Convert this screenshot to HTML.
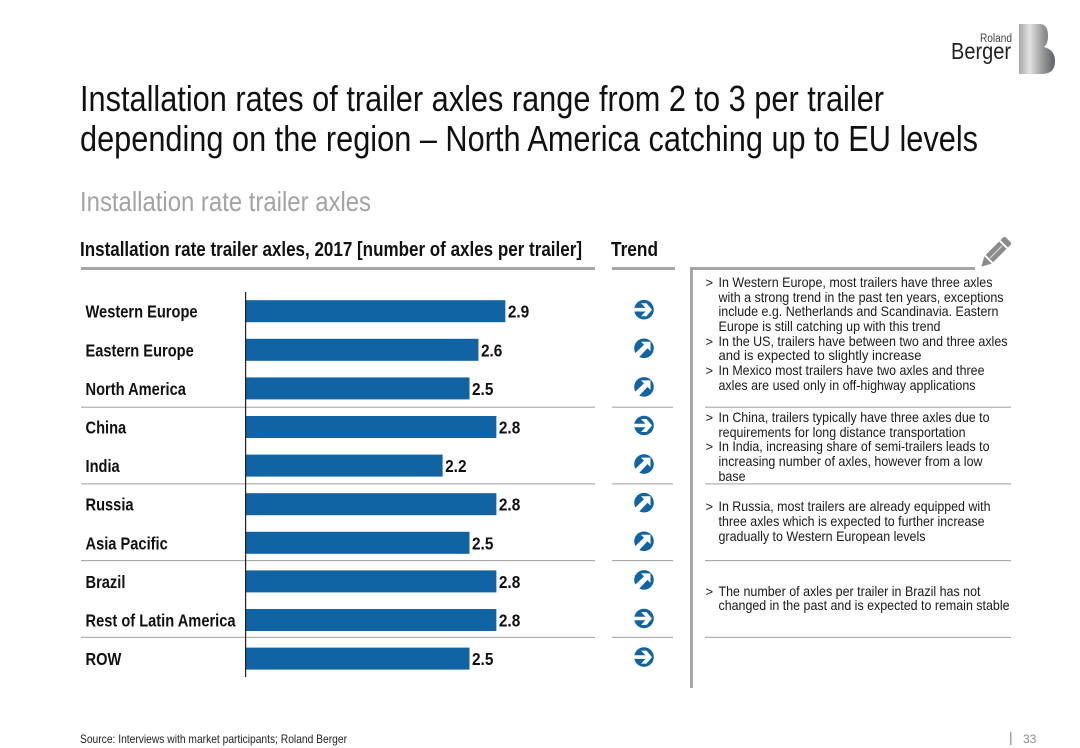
<!DOCTYPE html>
<html>
<head>
<meta charset="utf-8">
<title>Installation rate trailer axles</title>
<style>
html,body{margin:0;padding:0;background:#fff;}
svg{display:block;font-family:"Liberation Sans",sans-serif;}
</style>
</head>
<body>
<svg id="slide" width="1080" height="748" viewBox="0 0 1080 748" xmlns="http://www.w3.org/2000/svg">
  <defs>
    <linearGradient id="logoGrad" x1="0" x2="1" y1="0" y2="0">
      <stop offset="0" stop-color="#a8a8a8"/>
      <stop offset="0.3" stop-color="#e2e2e2"/>
      <stop offset="0.65" stop-color="#9a9a9a"/>
      <stop offset="1" stop-color="#5c6064"/>
    </linearGradient>
  </defs>

  <g>
    <text x="1012" y="42" text-anchor="end" font-size="11.5" fill="#444" textLength="32" lengthAdjust="spacingAndGlyphs">Roland</text>
    <text x="1011" y="59" text-anchor="end" font-size="23" fill="#222" textLength="60" lengthAdjust="spacingAndGlyphs">Berger</text>
    <path d="M1019 24 H1040 Q1048 24 1048 36 Q1048 44 1044 47 Q1055 50 1055 61 Q1055 74 1042 74 H1019 Z" fill="url(#logoGrad)"/>
  </g>

  <text x="80" y="111" font-size="36" fill="#111" textLength="804" lengthAdjust="spacingAndGlyphs">Installation rates of trailer axles range from 2 to 3 per trailer</text>
  <text x="80" y="151" font-size="36" fill="#111" textLength="898" lengthAdjust="spacingAndGlyphs">depending on the region – North America catching up to EU levels</text>
  <text x="80" y="211" font-size="28" fill="#a3a3a3" textLength="291" lengthAdjust="spacingAndGlyphs">Installation rate trailer axles</text>

  <text x="80" y="256" font-size="20" font-weight="bold" fill="#111" textLength="502" lengthAdjust="spacingAndGlyphs">Installation rate trailer axles, 2017 [number of axles per trailer]</text>
  <text x="611" y="256" font-size="20" font-weight="bold" fill="#111" textLength="47" lengthAdjust="spacingAndGlyphs">Trend</text>
  <rect x="81" y="267" width="514" height="3" fill="#a6a6a6"/>
  <rect x="612" y="267" width="63" height="3" fill="#a6a6a6"/>

  <g id="separators"></g>
  <g id="chart"></g>
  <g id="trends"></g>

  <g>
    <rect x="690" y="267" width="285" height="3" fill="#a6a6a6"/>
    <rect x="690" y="267" width="3" height="421" fill="#a6a6a6"/>
    <g transform="translate(980,268) rotate(45) scale(0.95)" fill="#8c8c8c">
      <path d="M0 -2 L-5.5 -12 H5.5 Z M-5.5 -14 H5.5 V-34 H-5.5 Z M-5.5 -36 H5.5 V-40 Q5.5 -42 3 -42 H-3 Q-5.5 -42 -5.5 -40 Z"/>
      <rect x="-0.6" y="-33" width="1.2" height="18" fill="#d9d9d9"/>
    </g>
    <g id="notes" font-size="14" fill="#1a1a1a">
      <text x="705.5" y="287" font-size="13">&gt;</text>
      <text x="718.5" y="287" textLength="274" lengthAdjust="spacingAndGlyphs">In Western Europe, most trailers have three axles</text>
      <text x="718.5" y="302" textLength="285" lengthAdjust="spacingAndGlyphs">with a strong trend in the past ten years, exceptions</text>
      <text x="718.5" y="316" textLength="280" lengthAdjust="spacingAndGlyphs">include e.g. Netherlands and Scandinavia. Eastern</text>
      <text x="718.5" y="331" textLength="222" lengthAdjust="spacingAndGlyphs">Europe is still catching up with this trend</text>
      <text x="705.5" y="346" font-size="13">&gt;</text>
      <text x="718.5" y="346" textLength="289" lengthAdjust="spacingAndGlyphs">In the US, trailers have between two and three axles</text>
      <text x="718.5" y="360" textLength="203" lengthAdjust="spacingAndGlyphs">and is expected to slightly increase</text>
      <text x="705.5" y="375" font-size="13">&gt;</text>
      <text x="718.5" y="375" textLength="266" lengthAdjust="spacingAndGlyphs">In Mexico most trailers have two axles and three</text>
      <text x="718.5" y="390" textLength="257" lengthAdjust="spacingAndGlyphs">axles are used only in off-highway applications</text>

      <text x="705.5" y="422" font-size="13">&gt;</text>
      <text x="718.5" y="422" textLength="271" lengthAdjust="spacingAndGlyphs">In China, trailers typically have three axles due to</text>
      <text x="718.5" y="437" textLength="247" lengthAdjust="spacingAndGlyphs">requirements for long distance transportation</text>
      <text x="705.5" y="451" font-size="13">&gt;</text>
      <text x="718.5" y="451" textLength="271" lengthAdjust="spacingAndGlyphs">In India, increasing share of semi-trailers leads to</text>
      <text x="718.5" y="466" textLength="264" lengthAdjust="spacingAndGlyphs">increasing number of axles, however from a low</text>
      <text x="718.5" y="481" textLength="27" lengthAdjust="spacingAndGlyphs">base</text>

      <text x="705.5" y="511" font-size="13">&gt;</text>
      <text x="718.5" y="511" textLength="272" lengthAdjust="spacingAndGlyphs">In Russia, most trailers are already equipped with</text>
      <text x="718.5" y="526" textLength="266" lengthAdjust="spacingAndGlyphs">three axles which is expected to further increase</text>
      <text x="718.5" y="541" textLength="207" lengthAdjust="spacingAndGlyphs">gradually to Western European levels</text>

      <text x="705.5" y="596" font-size="13">&gt;</text>
      <text x="718.5" y="596" textLength="262" lengthAdjust="spacingAndGlyphs">The number of axles per trailer in Brazil has not</text>
      <text x="718.5" y="610" textLength="291" lengthAdjust="spacingAndGlyphs">changed in the past and is expected to remain stable</text>
    </g>
  </g>

  <text x="80" y="743" font-size="12" fill="#222" textLength="267" lengthAdjust="spacingAndGlyphs">Source: Interviews with market participants; Roland Berger</text>
  <rect x="1010" y="732" width="1.5" height="13" fill="#a6a6a6"/>
  <text x="1023" y="743" font-size="12" fill="#8c8c8c">33</text>
</svg>

<script>
var categories = ["Western Europe","Eastern Europe","North America","China","India","Russia","Asia Pacific","Brazil","Rest of Latin America","ROW"];
var values = [2.9,2.6,2.5,2.8,2.2,2.8,2.5,2.8,2.8,2.5];
var valueLabels = ["2.9","2.6","2.5","2.8","2.2","2.8","2.5","2.8","2.8","2.5"];
var trends = ["flat","up","up","flat","up","up","up","up","flat","flat"];
var separatorCount = 4;

var NS = "http://www.w3.org/2000/svg";
function xScale(v){ return 245.5 + v * 89.6; }
function yScale(i){ return 311.2 + i * 38.6; }
function separatorY(n){ return 406.7 + n * 76.7; }
function make(tag, attrs, parent){
  var el = document.createElementNS(NS, tag);
  for (var k in attrs) el.setAttribute(k, attrs[k]);
  parent.appendChild(el);
  return el;
}
var chart = document.getElementById("chart");
var trendLayer = document.getElementById("trends");
var sepLayer = document.getElementById("separators");

for (var n = 0; n < separatorCount; n++) {
  [[81,595],[612,673],[705,1011]].forEach(function(span){
    var sep = make("rect", {x:span[0], y:separatorY(n), width:span[1]-span[0], height:1, fill:"#a0a0a0"}, sepLayer);
    
    
  });
}

categories.forEach(function(cat, i){
  var cy = yScale(i);
  var label = make("text", {x:85.5, y:cy+6.5, "font-size":17.5, "font-weight":"bold", fill:"#111"}, chart);
  
  
  label.textContent = cat;
  label.setAttribute("transform", "translate(85.5,0) scale(0.838,1) translate(-85.5,0)");

  var bar = make("rect", {x:xScale(0), y:cy-11, width:xScale(values[i])-xScale(0), height:22, fill:"#1164a3"}, chart);
  
  

  var valX = xScale(values[i]) + 2.5;
  var val = make("text", {x:valX, y:cy+6.5, "font-size":17.5, "font-weight":"bold", fill:"#111"}, chart);
  
  
  val.textContent = valueLabels[i];
  val.setAttribute("transform", "translate("+valX+",0) scale(0.88,1) translate("+(-valX)+",0)");

  var icon = make("g", {transform:"translate(644,"+(cy-1.5)+")"}, trendLayer);
  
  
  make("circle", {r:9.8, fill:"#1164a3"}, icon);
  var arrowPath = trends[i] === "up"
    ? "M-3 -6.5 H6.5 V3 L3.5 0 L-5.5 9.5 L-9.5 5.5 L0 -3.5 Z"
    : "M-10 -1.8 H1.5 L-3 -6.5 H2.5 L8 0 L2.5 6.5 H-3 L1.5 1.8 H-10 Z";
  make("path", {d:arrowPath, fill:"#fff"}, icon);
});

var axis = make("rect", {x:245, y:292, width:1.2, height:385, fill:"#222"}, chart);


</script>
</body>
</html>
